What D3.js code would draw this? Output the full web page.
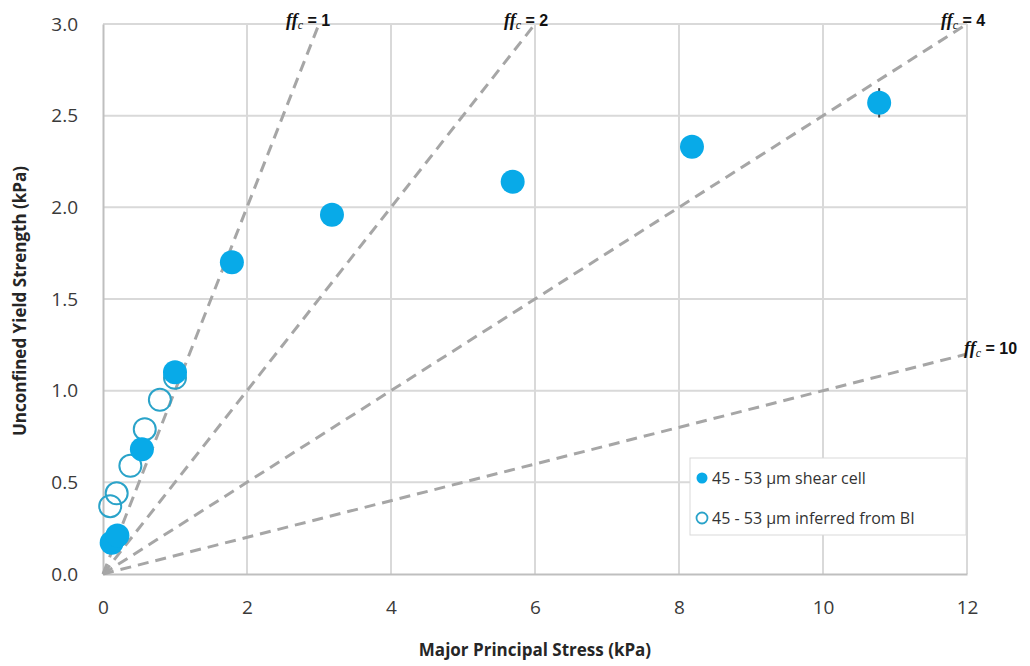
<!DOCTYPE html>
<html>
<head>
<meta charset="utf-8">
<script src="https://cdn.jsdelivr.net/npm/d3@7"></script>
<style>
  body { margin: 0; background: #fff; }
  svg { display: block; font-family: "Open Sans", "Liberation Sans", sans-serif; }
</style>
</head>
<body>
<div class="graph"></div>
<script>
// shear cell measurements (filled)
const shearX = [0.12, 0.2, 0.54, 1.0, 1.79, 3.18, 5.69, 8.18, 10.78];
const shearY = [0.17, 0.21, 0.68, 1.10, 1.70, 1.96, 2.14, 2.33, 2.57];
const shearErr = [0, 0, 0, 0, 0, 0, 0, 0, 0.08];

// inferred from BI (open)
const biX = [0.1, 0.19, 0.38, 0.58, 0.79, 1.0];
const biY = [0.37, 0.44, 0.59, 0.79, 0.95, 1.07];

// flowability lines
const ffcValues = [1, 2, 4, 10];

const xTicks = [0, 2, 4, 6, 8, 10, 12];
const yTicks = [0, 0.5, 1.0, 1.5, 2.0, 2.5, 3.0];

const legendLabels = ["45 - 53 \u00b5m shear cell", "45 - 53 \u00b5m inferred from BI"];

const width = 1030, height = 666;
const margin = {left: 103, right: 63, top: 24, bottom: 92};

const svg = d3.select(".graph").append("svg")
  .attr("width", width)
  .attr("height", height);

const x = d3.scaleLinear().domain([0, 12]).range([margin.left, width - margin.right]);
const y = d3.scaleLinear().domain([0, 3]).range([height - margin.bottom, margin.top]);

// grid
svg.append("g").selectAll("line")
  .data(yTicks.slice(1))
  .enter().append("line")
  .attr("x1", x(0)).attr("x2", x(12))
  .attr("y1", d => y(d)).attr("y2", d => y(d))
  .attr("stroke", "#d9d9d9").attr("stroke-width", 2);

svg.append("g").selectAll("line")
  .data(xTicks.slice(1))
  .enter().append("line")
  .attr("y1", y(0)).attr("y2", y(3))
  .attr("x1", d => x(d)).attr("x2", d => x(d))
  .attr("stroke", "#d9d9d9").attr("stroke-width", 2);

// axes
const xAxis = svg.append("g")
  .attr("transform", "translate(0," + y(0) + ")")
  .call(d3.axisBottom(x).tickValues(xTicks).tickSize(0).tickPadding(27));
xAxis.select(".domain").attr("stroke", "#bfbfbf").attr("stroke-width", 2);

const yAxis = svg.append("g")
  .attr("transform", "translate(" + x(0) + ",0)")
  .call(d3.axisLeft(y).tickValues(yTicks).tickSize(0).tickPadding(25).tickFormat(d3.format(".1f")));
yAxis.select(".domain").attr("stroke", "#bfbfbf").attr("stroke-width", 2);

svg.selectAll(".tick text")
  .attr("font-size", 19)
  .attr("fill", "#3a3a3a")
  .attr("font-family", "\"Open Sans\", sans-serif");

// axis titles
svg.append("text")
  .attr("x", (x(0) + x(12)) / 2)
  .attr("y", 656)
  .attr("text-anchor", "middle")
  .attr("font-size", 17)
  .attr("font-weight", "bold")
  .attr("fill", "#262626")
  .text("Major Principal Stress (kPa)");

svg.append("text")
  .attr("transform", "translate(26," + (y(1.5) + 2) + ") rotate(-90)")
  .attr("text-anchor", "middle")
  .attr("font-size", 17)
  .attr("font-weight", "bold")
  .attr("fill", "#262626")
  .text("Unconfined Yield Strength (kPa)");

// ffc lines
svg.append("g").selectAll("line")
  .data(ffcValues)
  .enter().append("line")
  .attr("x1", x(0)).attr("y1", y(0))
  .attr("x2", d => x(Math.min(12, 3 * d)))
  .attr("y2", d => y(Math.min(12, 3 * d) / d))
  .attr("stroke", "#a6a6a6")
  .attr("stroke-width", 3)
  .attr("stroke-dasharray", "11,7");

const labelPos = {1: [-33, 2], 2: [-31, 2], 4: [-26, 2], 10: [-3, 0]};
const ffLabels = svg.append("g").selectAll("text")
  .data(ffcValues)
  .enter().append("text")
  .attr("x", d => x(Math.min(12, 3 * d)) + labelPos[d][0])
  .attr("y", d => y(Math.min(12, 3 * d) / d) + labelPos[d][1])
  .attr("font-size", 16)
  .attr("fill", "#111");
ffLabels.append("tspan")
  .attr("font-family", "\"Liberation Serif\", serif")
  .attr("font-style", "italic")
  .attr("font-weight", "bold")
  .attr("font-size", 18)
  .text("ff");
ffLabels.append("tspan")
  .attr("font-family", "\"Liberation Serif\", serif")
  .attr("font-style", "italic")
  .attr("font-size", 12)
  .attr("dy", 3)
  .text("c");
ffLabels.append("tspan")
  .attr("dy", -3)
  .attr("font-family", "\"Liberation Sans\", sans-serif")
  .attr("font-weight", "bold")
  .text(d => " = " + d);

// error bars
svg.append("g").selectAll("line")
  .data(shearX.map((d, i) => [d, shearY[i], shearErr[i]]).filter(d => d[2] > 0))
  .enter().append("line")
  .attr("x1", d => x(d[0])).attr("x2", d => x(d[0]))
  .attr("y1", d => y(d[1] - d[2])).attr("y2", d => y(d[1] + d[2]))
  .attr("stroke", "#444").attr("stroke-width", 2);

// open markers
svg.append("g").selectAll("circle")
  .data(biX.map((d, i) => [d, biY[i]]))
  .enter().append("circle")
  .attr("cx", d => x(d[0]))
  .attr("cy", d => y(d[1]))
  .attr("r", 11)
  .attr("fill", "none")
  .attr("stroke", "#2aa3c9")
  .attr("stroke-width", 2);

// filled markers
svg.append("g").selectAll("circle")
  .data(shearX.map((d, i) => [d, shearY[i]]))
  .enter().append("circle")
  .attr("cx", d => x(d[0]))
  .attr("cy", d => y(d[1]))
  .attr("r", 12)
  .attr("fill", "#08aae8");

// legend
const legend = svg.append("g").attr("transform", "translate(690,458)");
legend.append("rect")
  .attr("width", 276).attr("height", 77)
  .attr("fill", "#fff")
  .attr("stroke", "#d9d9d9");

const items = legend.selectAll("g.item")
  .data(legendLabels)
  .enter().append("g")
  .attr("class", "item")
  .attr("transform", (d, i) => "translate(0," + (20 + i * 40) + ")");

items.append("circle")
  .attr("cx", 12).attr("cy", 0).attr("r", 5.5)
  .attr("fill", (d, i) => i === 0 ? "#08aae8" : "#fff")
  .attr("stroke", (d, i) => i === 0 ? "none" : "#2aa3c9")
  .attr("stroke-width", 1.8);

items.append("text")
  .attr("x", 22).attr("y", 6)
  .attr("font-size", 16)
  .attr("fill", "#333")
  .text(d => d);
</script>
</body>
</html>
